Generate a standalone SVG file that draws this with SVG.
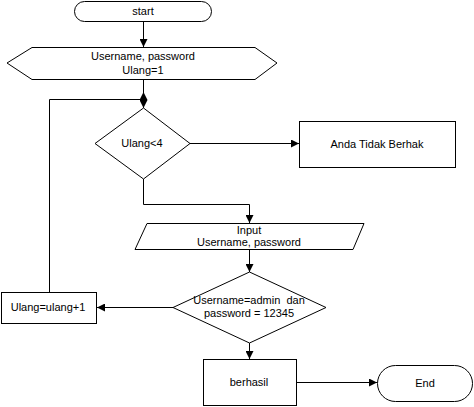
<svg xmlns="http://www.w3.org/2000/svg" width="474" height="407" viewBox="0 0 474 407">
<defs>
<marker id="ah" viewBox="0 0 10 10" refX="10" refY="5" markerWidth="8" markerHeight="8" markerUnits="userSpaceOnUse" orient="auto">
<path d="M0,0 L10,5 L0,10 z" fill="#000"/>
</marker>
<style>
.s{fill:#fff;stroke:#000;stroke-width:1}
.c{fill:none;stroke:#000;stroke-width:1;marker-end:url(#ah)}
text{font-family:"Liberation Sans",Arial,sans-serif;font-size:11px;fill:#000;text-anchor:middle}
</style>
</defs>
<rect width="474" height="407" fill="#fff"/>
<g id="connectors">
<path class="c" d="M143.5,21 V47"/>
<path class="c" d="M143.5,79 V108"/>
<path class="c" d="M49.5,292 V99.5 H143.5 V92"/>
<path class="c" d="M190,143.5 H299"/>
<path class="c" d="M143.5,179 V204.5 H249.5 V223"/>
<path class="c" d="M249.5,249 V272"/>
<path class="c" d="M173,307.5 H97"/>
<path class="c" d="M249.5,343 V359"/>
<path class="c" d="M297,382.5 H377"/>
</g>
<g id="start">
<rect class="s" x="74.5" y="1.5" width="137" height="20" rx="10"/>
<text x="143" y="15">start</text>
</g>
<g id="init">
<polygon class="s" points="7,63 32,47.5 255,47.5 277,63 255,79.5 32,79.5"/>
<text x="143" y="60">Username, password</text>
<text x="143" y="74">Ulang=1</text>
</g>
<g id="cek-ulang">
<polygon class="s" points="143.5,108 190,143.5 143.5,179 95,143.5"/>
<text x="142" y="147">Ulang&lt;4</text>
</g>
<g id="tidak-berhak">
<rect class="s" x="299.5" y="121.5" width="156" height="46"/>
<text x="377" y="148">Anda Tidak Berhak</text>
</g>
<g id="input">
<polygon class="s" points="147,223.5 364,223.5 353,249.5 135,249.5"/>
<text x="249" y="234">Input</text>
<text x="249" y="246">Username, password</text>
</g>
<g id="cek-login">
<polygon class="s" points="249.5,272 326,307.5 249.5,343 173,307.5"/>
<text x="249" y="304" xml:space="preserve">Username=admin  dan</text>
<text x="249" y="317">password = 12345</text>
</g>
<g id="increment">
<rect class="s" x="1.5" y="292.5" width="95" height="31"/>
<text x="48" y="311">Ulang=ulang+1</text>
</g>
<g id="berhasil">
<rect class="s" x="203.5" y="359.5" width="93" height="46"/>
<text x="249" y="386">berhasil</text>
</g>
<g id="end">
<rect class="s" x="377.5" y="365.5" width="95" height="36" rx="18"/>
<text x="425" y="387">End</text>
</g>
</svg>
